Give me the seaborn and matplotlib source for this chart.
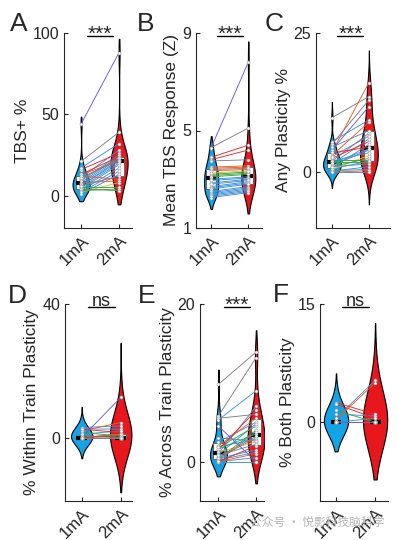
import numpy as np
import pandas as pd
import matplotlib
matplotlib.use('Agg')
import matplotlib.pyplot as plt
import seaborn as sns

# data (one value per subject, same order in every panel)

conditions = ['1mA', '2mA']

purple, gray, red, orange, green, yellow, blue = ('#6a5acd', '#7f7f7f', '#e8262a',
                                                  '#ee5a24', '#35a83a', '#f2b134', '#3d8fd6')
line_colors = [purple, gray, red, red, gray, orange, orange, gray, orange,
               green, green, green, yellow] + [blue] * 13

tbs_1ma = [44, 21, 16, 13, 11, 13, 12, 10, 8, 3, 4, 5, 2,
           17, 11, 9, 8, 7, 6, 6, 5, 4, 3, 2, 1, 6]
tbs_2ma = [88, 39, 26, 24, 22, 21, 10, 23, 9, 4, 3, 5, 8,
           32, 28, 25, 24, 23, 22, 21, 20, 19, 17, 15, 13, 12]

resp_1ma = [4.3, 4.3, 3.9, 3.8, 3.75, 3.5, 3.45, 3.4, 3.35, 3.2, 3.15, 3.1, 3.25,
            3.0, 2.95, 2.85, 2.8, 2.7, 2.65, 2.6, 2.5, 2.45, 2.4, 2.35, 2.3, 2.25]
resp_2ma = [7.8, 5.1, 4.4, 4.2, 3.8, 3.55, 3.5, 3.45, 3.4, 3.3, 3.25, 3.2, 3.35,
            3.1, 3.05, 3.0, 2.95, 2.9, 2.85, 2.8, 2.7, 2.65, 2.6, 2.55, 2.5, 2.45]

any_1ma = [4.0, 9.8, 2.5, 3.5, 5.0, 3.6, 3.0, 2.0, 0.0, 2.2, 1.8, 1.0, 0.5,
           5.5, 1.5, 0.3, 2.8, 1.2, 0.8, 0.2, 4.5, 2.0, 1.6, 0.6, 0.0, 1.0]
any_2ma = [11.8, 13.6, 5.5, 4.5, 13.0, 16.1, 9.0, 7.0, 0.3, 2.2, 1.8, 2.5, 3.0,
           9.4, 6.0, 0.5, 6.5, 4.0, 5.0, 1.0, 7.5, 3.5, 4.2, 2.0, 0.0, 1.5]

within_1ma = [0, 0, 2.5, 0, 0, 2.0, 0, 0, 0, 1.5, 0, 0.5, 0,
              3.0, 2.6, 1.0, 0, 0, 0, 0.5, 0, 0, 0, 0, 0, 0]
within_2ma = [12, 0, 1.5, 0.5, 0, 4.5, 1.0, 0, 0, 0.5, 0, 0, 0,
              3.5, 2.5, 2.0, 1.0, 0, 0, 0, 0, 0, 0.5, 0, 0, 0]

across_1ma = [4.5, 9.8, 1.5, 0.0, 5.8, 2.0, 0.5, 5.5, 0.0, 1.8, 0.3, 1.6, 1.2,
              5.3, 1.0, 0.8, 0.0, 0.2, 0.6, 2.5, 1.9, 0.4, 0.9, 0.0, 0.1, 3.0]
across_2ma = [0.0, 13.9, 6.5, 2.0, 13.2, 5.5, 3.0, 6.0, 1.0, 4.5, 4.0, 3.5, 2.5,
              9.0, 7.0, 2.2, 0.5, 1.2, 3.2, 5.0, 2.8, 1.5, 4.8, 0.0, 3.8, 2.6]

both_1ma = [0, 0, 2.5, 2.3, 0, 0.3, 0, 0, 0, 1.5, 0, 0, 0,
            0.5, 1.0, 0, 0, 0, 0, 0, 0, 0, 0, 0, 0, 0]
both_2ma = [0, 0, 1.0, 0.5, 0, 5.0, 0, 0, 0, 0, 0, 0, 0,
            5.3, 0.8, 0, 0.5, 0, 0, 0, 0, 0, 0, 0, 0, 0]

panels = [
    ('A', 'TBS+ %', tbs_1ma, tbs_2ma, (-20, 100), [0, 50, 100], '***'),
    ('B', 'Mean TBS Response (Z)', resp_1ma, resp_2ma, (1, 9), [1, 5, 9], '***'),
    ('C', 'Any Plasticity %', any_1ma, any_2ma, (-10, 25), [0, 25], '***'),
    ('D', '% Within Train Plasticity', within_1ma, within_2ma, (-19, 40), [0, 40], 'ns'),
    ('E', '% Across Train Plasticity', across_1ma, across_2ma, (-5, 20), [0, 20], '***'),
    ('F', '% Both Plasticity', both_1ma, both_2ma, (-10, 15), [0, 15], 'ns'),
]

# layout (pixels of the 399x540 figure): left, right, top, bottom of each axes
boxes = [(64, 132, 33, 228), (196, 262, 33, 228), (316, 390, 33, 228),
         (65, 132, 304, 501), (200, 264, 304, 501), (320, 388, 304, 501)]
xlims = [(-0.45, 1.34), (-0.41, 1.37), (-0.43, 1.57),
         (-0.43, 1.29), (-0.49, 1.21), (-0.41, 1.33)]
bw_adj = [1, 1, 1, 5, 1, 5]
cuts = [1, 1.5, 2.5, 2.5, 1.5, 2]
vwidth = [0.45, 0.38, 0.48, 0.55, 0.45, 0.62]
letter_pos = [(10, 31), (137, 31), (265, 31), (8, 303), (138, 303), (273, 302)]

sns.set_style('ticks')
plt.rcParams['font.family'] = ['Liberation Sans', 'DejaVu Sans']

W, H = 399, 540
fig = plt.figure(figsize=(W / 100, H / 100), dpi=100)

for k, (letter, ylab, v1, v2, ylim, yt, sig) in enumerate(panels):
    l, r, t, b = boxes[k]
    ax = fig.add_axes([l / W, 1 - b / H, (r - l) / W, (b - t) / H])
    n = len(v1)
    df = pd.DataFrame({'cond': ['1mA'] * n + ['2mA'] * n, 'val': list(v1) + list(v2)})

    sns.violinplot(data=df, x='cond', y='val', hue='cond', order=conditions,
                   hue_order=conditions, palette=['#12a4e6', '#e8161d'],
                   inner=None, cut=cuts[k], bw_adjust=bw_adj[k], width=vwidth[k],
                   linecolor='k', linewidth=0.8, saturation=1, legend=False, ax=ax)
    sns.boxplot(data=df, x='cond', y='val', order=conditions, width=0.28,
                color='white', linecolor='0.35', linewidth=0.6,
                showfliers=False, showcaps=False, whis=0,
                whiskerprops=dict(linewidth=0),
                medianprops=dict(color='k', linewidth=3), ax=ax)

    for i in reversed(range(n)):
        ax.plot([0, 1], [v1[i], v2[i]], color=line_colors[i], lw=0.65, zorder=3)
    ax.plot([0] * n, v1, 'o', ms=2.2, mfc='white', mec='0.6', mew=0.4, zorder=4)
    ax.plot([1] * n, v2, 'o', ms=2.2, mfc='white', mec='0.6', mew=0.4, zorder=4)

    ax.set_xlim(*xlims[k])
    ax.set_ylim(*ylim)
    ax.set_yticks(yt)
    ax.set_xticks([0, 1])
    ax.set_xticklabels(conditions, rotation=45, ha='right', rotation_mode='anchor', fontsize=12)
    ax.tick_params(axis='y', labelsize=11.5, direction='in', length=3, width=0.8)
    ax.tick_params(axis='x', direction='in', length=3, width=0.8)
    ax.set_xlabel('')
    ax.set_ylabel(ylab, fontsize=12.5, labelpad=2)
    for s in ['left', 'bottom']:
        ax.spines[s].set_linewidth(0.8)
    sns.despine(ax=ax)

    # significance bar
    trans = ax.get_xaxis_transform()
    ax.plot([0.15, 0.85], [0.985, 0.985], transform=trans, color='k', lw=1, clip_on=False)
    ax.annotate(sig, xy=(0.5, 0.985), xycoords=trans,
                xytext=(0, -3 if sig == '***' else 1), textcoords='offset points',
                ha='center', va='baseline', fontsize=15 if sig == '***' else 13,
                annotation_clip=False)

    lx, ly = letter_pos[k]
    fig.text(lx / W, 1 - ly / H, letter, fontsize=19, va='baseline')

fig.text(250 / W, 1 - 526 / H, '公众号 · 悦影科技脑科学', fontsize=8.5, color='#b5b5b5',
         family=['Noto Sans CJK SC', 'DejaVu Sans'], va='baseline')

fig.savefig('out.png', dpi=100)
